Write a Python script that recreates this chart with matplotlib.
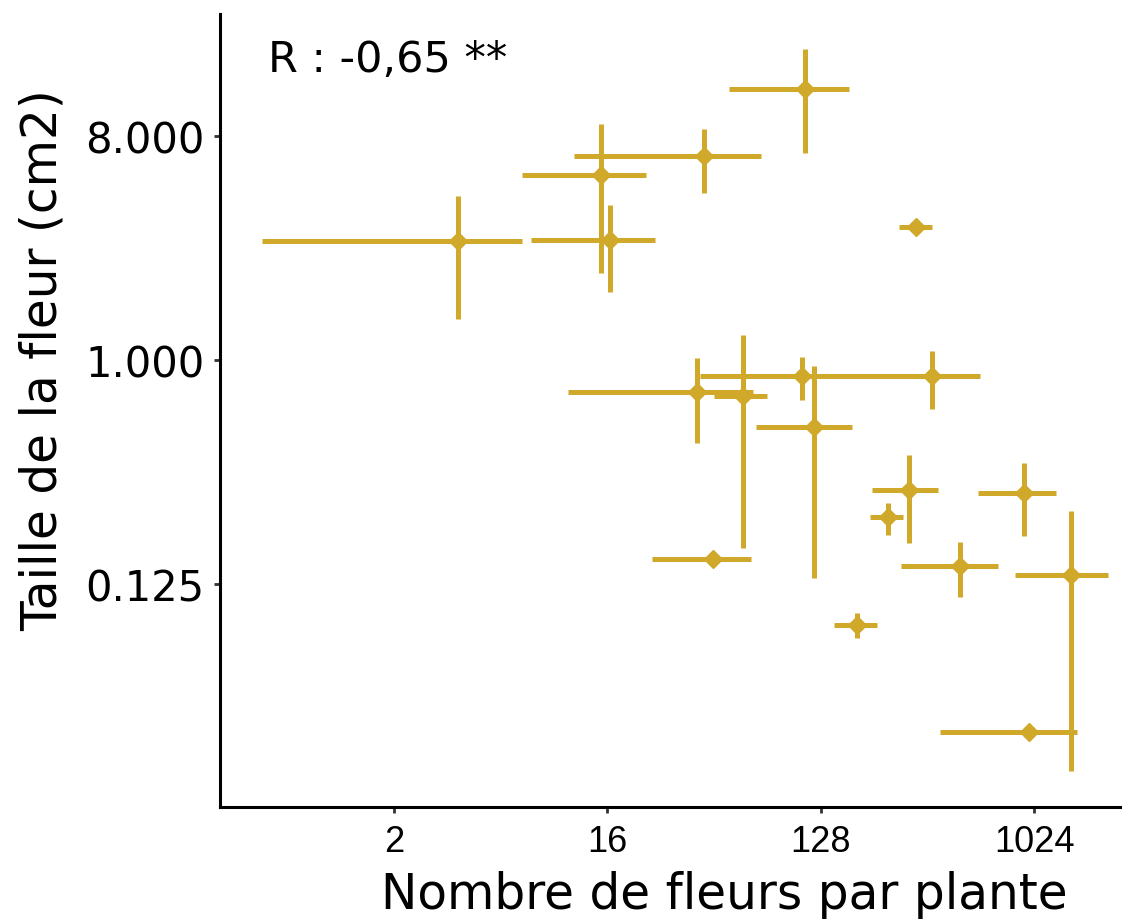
import matplotlib
matplotlib.use("Agg")
import matplotlib.pyplot as plt
from matplotlib.ticker import FixedLocator, FixedFormatter

# Data: flowers per plant (x) and flower size in cm2 (y), with ranges
fleurs = [3.73, 15.0, 16.4, 41.1, 110, 324, 38.4, 60.1, 107, 379,
          120, 303, 247, 44.8, 498, 930, 1470, 183, 976]
fleurs_min = [0.55, 6.96, 7.61, 11.6, 52.4, 275, 10.9, 45.3, 39.5, 207,
              68.2, 211, 207, 24.7, 280, 594, 852, 146, 410]
fleurs_max = [6.96, 23.3, 25.5, 71.6, 169, 379, 66.2, 75.9, 252, 606,
              174, 402, 286, 64.9, 722, 1270, 2109, 222, 1558]
taille = [3.02, 5.57, 3.05, 6.64, 12.4, 3.44, 0.743, 0.716, 0.862, 0.862,
          0.537, 0.299, 0.233, 0.158, 0.148, 0.291, 0.135, 0.0854, 0.0317]
taille_min = [1.46, 2.24, 1.88, 4.71, 6.83, 3.44, 0.463, 0.174, 0.690, 0.635,
              0.132, 0.183, 0.197, 0.158, 0.111, 0.195, 0.0219, 0.0757, 0.0317]
taille_max = [4.58, 8.94, 4.22, 8.54, 17.9, 3.44, 1.02, 1.26, 1.03, 1.08,
              0.946, 0.414, 0.265, 0.158, 0.184, 0.384, 0.246, 0.0954, 0.0317]

x_ticks = [2, 16, 128, 1024]
x_labels = ["2", "16", "128", "1024"]
y_ticks = [0.125, 1, 8]
y_labels = ["0.125", "1.000", "8.000"]

COL = "#D0A82A"

fig = plt.figure(figsize=(11.36, 9.2), dpi=100)
ax = fig.add_axes([0.1937, 0.1217, 0.7923, 0.862])

xerr = [[x - lo for x, lo in zip(fleurs, fleurs_min)],
        [hi - x for x, hi in zip(fleurs, fleurs_max)]]
yerr = [[y - lo for y, lo in zip(taille, taille_min)],
        [hi - y for y, hi in zip(taille, taille_max)]]

ax.errorbar(fleurs, taille, xerr=xerr, yerr=yerr, fmt="none",
            ecolor=COL, elinewidth=3.6, capsize=0)
ax.plot(fleurs, taille, linestyle="none", marker="D", markersize=9,
        color=COL, markeredgecolor=COL, markeredgewidth=1)

ax.set_xscale("log", base=2)
ax.set_yscale("log", base=2)
ax.set_xlim(2 ** -1.447, 2 ** 11.21)
ax.set_ylim(2 ** -5.99, 2 ** 4.63)

ax.xaxis.set_major_locator(FixedLocator(x_ticks))
ax.xaxis.set_major_formatter(FixedFormatter(x_labels))
ax.xaxis.set_minor_locator(FixedLocator([]))
ax.yaxis.set_major_locator(FixedLocator(y_ticks))
ax.yaxis.set_major_formatter(FixedFormatter(y_labels))
ax.yaxis.set_minor_locator(FixedLocator([]))

for lab in ax.get_xticklabels():
    lab.set_fontfamily("Liberation Sans")
    lab.set_fontsize(26)
for lab in ax.get_yticklabels():
    lab.set_fontfamily("DejaVu Sans")
    lab.set_fontsize(30)

ax.tick_params(axis="both", length=4, width=2, color="#333333", pad=8)
ax.tick_params(axis="y", pad=7)

for side in ["top", "right"]:
    ax.spines[side].set_visible(False)
for side in ["left", "bottom"]:
    ax.spines[side].set_linewidth(2.2)

ax.set_xlabel("Nombre de fleurs par plante", fontsize=35,
              fontfamily="DejaVu Sans")
ax.xaxis.set_label_coords(0.56, -0.079)
ax.set_ylabel("Taille de la fleur (cm2)", fontsize=35,
              fontfamily="DejaVu Sans")
ax.yaxis.set_label_coords(-0.17, 0.565)

ax.text(0.053, 0.928, "R : -0,65 **", transform=ax.transAxes,
        fontsize=31, fontfamily="DejaVu Sans", va="baseline", ha="left")

fig.savefig("out.png", dpi=100)
